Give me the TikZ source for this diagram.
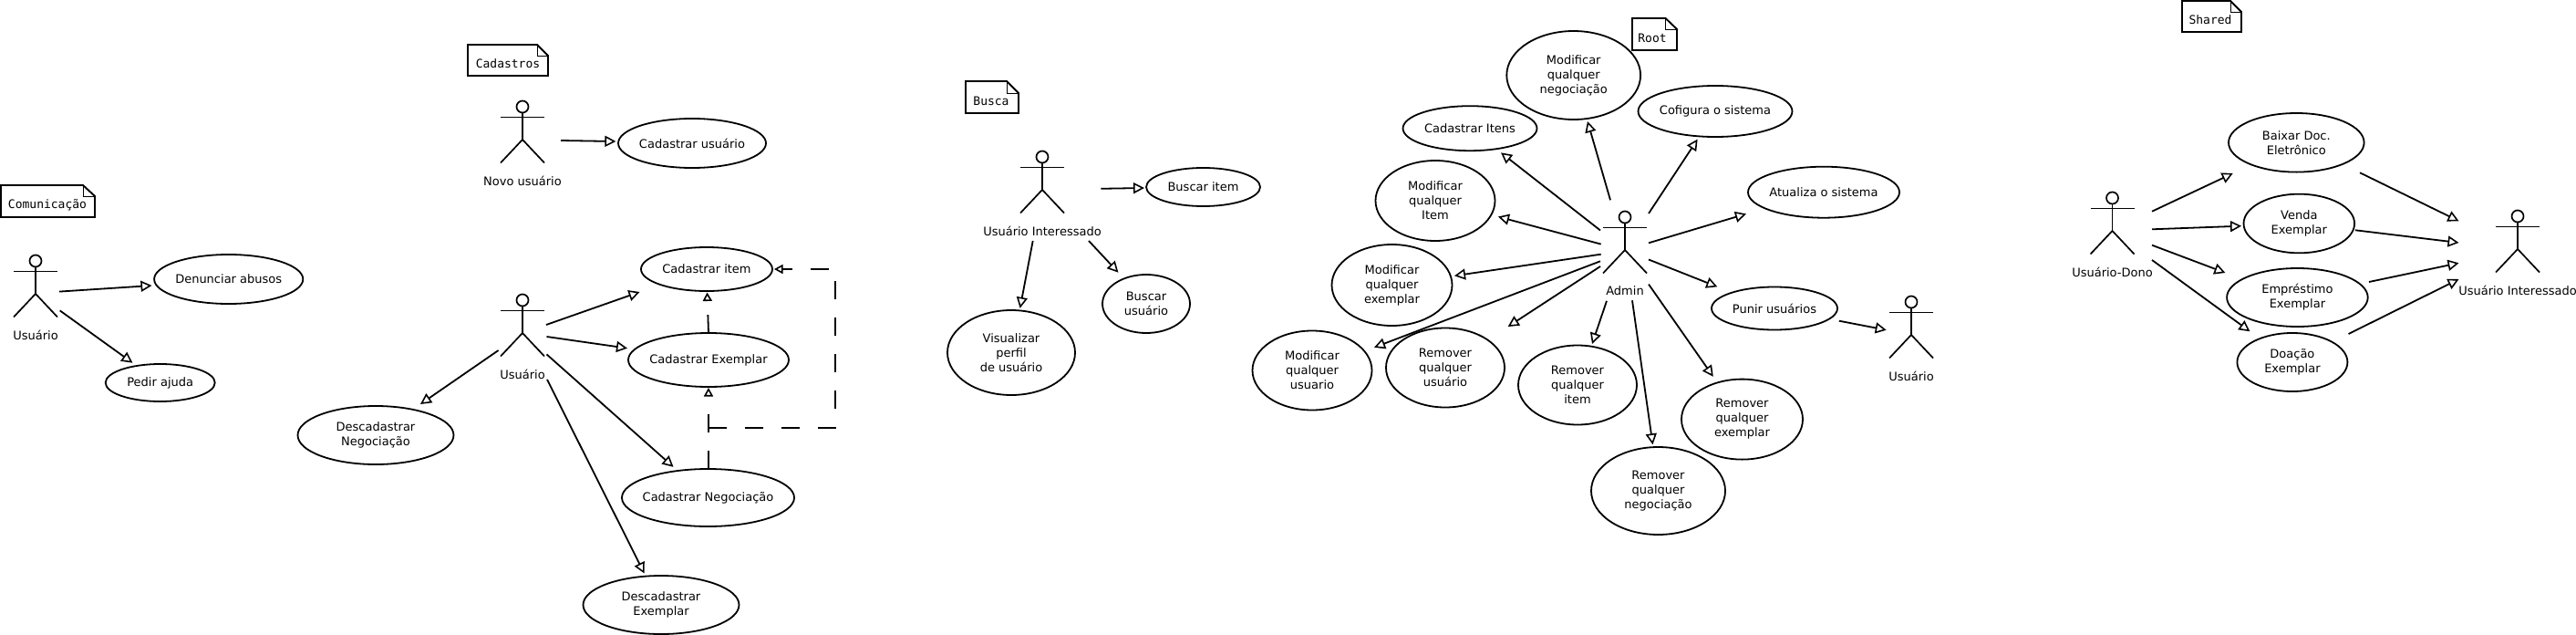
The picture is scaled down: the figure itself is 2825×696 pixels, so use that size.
\documentclass[tikz,border=0pt]{standalone}
\usepackage{fontspec}
\setmainfont{DejaVu Sans}
\setmonofont{DejaVu Sans Mono}
\usetikzlibrary{arrows.meta,calc,shapes.geometric}
\tikzset{
  x=1pt,y=-1pt,
  every node/.style={font=\fontsize{13}{16}\selectfont},
  usecase/.style={draw,ellipse,line width=1.8pt,inner sep=-20pt,outer sep=0pt,align=center},
  gen/.style={line width=1.8pt,-{Triangle[open,length=12pt,width=12pt,line width=1.6pt]}},
  dep/.style={line width=1.8pt,-{Triangle[open,length=9.5pt,width=10pt,line width=1.6pt]},dash pattern=on 20pt off 20pt},
  actorbox/.style={rectangle,inner sep=0pt,minimum width=48pt,minimum height=73pt},
  stick/.style={line width=1.7pt},
  actorlabel/.style={inner sep=0pt},
  notebody/.style={line width=1.9pt,fill=white},
  notefold/.style={line width=0.7pt},
  notetext/.style={inner sep=0pt,font=\ttfamily\fontsize{13}{16}\selectfont}
}
\newcommand\actorfig[4]{% name, x, y(body centre), label
  \node[actorbox] (#1) at (#2,#3) {};
  \draw[stick] ($(#1)+(0,-30)$) ellipse [x radius=6.5pt,y radius=6.5pt];
  \draw[stick] ($(#1)+(-24,-18.5)$) -- ($(#1)+(24,-18.5)$);
  \draw[stick] ($(#1)+(0,-23.5)$) -- ($(#1)+(0,6)$);
  \draw[stick] ($(#1)+(-24,31.5)$) -- ($(#1)+(0,6)$) -- ($(#1)+(24,31.5)$);
  \node[actorlabel] (#1-label) at ($(#1)+(0,51)$) {#4};
}
\newcommand\ucase[5]{% name, (x,y), rx, ry, text
  \node[usecase,minimum width={2*#3},minimum height={2*#4}] (#1) at (#2) {#5};
}
\newcommand\conn[4]{\draw[gen] ($(#1)+(#2)$) -- ($(#3)+(#4)$);}
\newcommand\umlnote[9]{% name, x1,y1,x2,y2, foldx,foldy, (text pos), text
  \draw[notebody] (#2,#3) -- (#6,#3) -- (#4,#7) -- (#4,#5) -- (#2,#5) -- cycle;
  \draw[notefold] (#6,#3) -- (#6,#7) -- (#4,#7);
  \node[notetext] (#1) at (#8) {#9};
}
\begin{document}
\begin{tikzpicture}
\useasboundingbox (0,0) rectangle (2825,696);
% notes
\umlnote{ncom}{1}{203}{104}{238}{91}{215}{52,225}{Comunicação}
\umlnote{ncad}{513}{49}{601}{83}{589}{61}{557,70}{Cadastros}
\umlnote{nbus}{1059}{89}{1117}{124}{1104}{102}{1087,110.5}{Busca}
\umlnote{nroot}{1790}{20}{1839}{55}{1826.5}{32}{1812,42}{Root}
\umlnote{nsha}{2393}{1}{2458}{35}{2446}{13}{2424,22}{Shared}
% actors
\actorfig{u1}{39}{316}{Usuário}
\actorfig{nov}{573}{147}{Novo usuário}
\actorfig{u3}{573}{359}{Usuário}
\actorfig{ub}{1143}{202}{Usuário Interessado}
\actorfig{adm}{1782}{268}{Admin}
\actorfig{ur}{2096}{361}{Usuário}
\actorfig{dono}{2316.5}{247}{Usuário-Dono}
\actorfig{ui}{2761}{267}{Usuário Interessado}
% use cases
\ucase{den}{250.7,306}{81.6}{27}{Denunciar abusos}
\ucase{ped}{175.7,419.5}{60}{20.5}{Pedir ajuda}
\ucase{cus}{759,157}{81}{27}{Cadastrar usuário}
\ucase{cit}{775,295}{72}{24}{Cadastrar item}
\ucase{cex}{777,394.5}{88}{29.5}{Cadastrar Exemplar}
\ucase{cneg}{776.5,545.5}{94.5}{31.5}{Cadastrar Negociação}
\ucase{dneg}{412,477}{85.5}{32}{Descadastrar\\Negociação}
\ucase{dex}{725,663}{85.5}{32}{Descadastrar\\Exemplar}
\ucase{bit}{1319.5,205}{62.5}{21}{Buscar item}
\ucase{bus}{1257,333}{48}{32}{Buscar\\usuário}
\ucase{vis}{1109,386.5}{70}{46.5}{Visualizar\\perfil\\de usuário}
\ucase{mneg}{1725.7,82.5}{73.4}{48.5}{Modificar\\qualquer\\negociação}
\ucase{cof}{1881,122}{84.5}{28}{Cofigura o sistema}
\ucase{cits}{1612,140.7}{73.5}{24.5}{Cadastrar Itens}
\ucase{mit}{1574,220}{65.5}{44}{Modificar\\qualquer\\Item}
\ucase{mex}{1526.5,312.5}{66}{44.5}{Modificar\\qualquer\\exemplar}
\ucase{mus}{1439,406}{65.5}{43.5}{Modificar\\qualquer\\usuario}
\ucase{rus}{1585,403}{65}{43.5}{Remover\\qualquer\\usuário}
\ucase{rit}{1730,422}{65}{43.5}{Remover\\qualquer\\item}
\ucase{rneg}{1818.5,538}{73.5}{48}{Remover\\qualquer\\negociação}
\ucase{rex}{1910.5,459.6}{66.5}{44}{Remover\\qualquer\\exemplar}
\ucase{atu}{2000,210.7}{83}{28}{Atualiza o sistema}
\ucase{pun}{1946,338}{69}{23.5}{Punir usuários}
\ucase{bai}{2518.3,156.3}{74.3}{32.3}{Baixar Doc.\\Eletrônico}
\ucase{ven}{2521.3,245}{60.8}{32.3}{Venda\\Exemplar}
\ucase{emp}{2519.4,326}{77.3}{32}{Empréstimo\\Exemplar}
\ucase{doa}{2513.9,397}{60.5}{32}{Doação\\Exemplar}
% connectors
\conn{u1}{26,3.6}{den}{-84.2,7}
\conn{u1}{26.7,24.4}{ped}{-30.3,-21.8}
\conn{nov}{42,7}{cus}{-83.6,-2}
\conn{u3}{26,-3}{cit}{-73.5,25}
\conn{u3}{26.5,10}{cex}{-89,-12.8}
\conn{u3}{26.5,29.4}{cneg}{-38,-33.7}
\conn{u3}{27,57}{dex}{-18.4,-34.5}
\conn{u3}{-26.4,25}{dneg}{49,-34}
\draw[dep] ($(cex)+(0,-29.5)$) -- ($(cit)+(0.5,25.5)$);
\draw[dep] ($(cneg)+(0.5,-31.5)$) -- ($(cex)+(0,30.5)$);
\draw[dep] ($(cneg)+(0.5,-76.5)$) -- ++(139,0) -- ++(0,-174) -- ($(cit)+(74,0)$);
\conn{ub}{64.3,4.8}{bit}{-64.5,1}
\conn{ub}{51,62}{bus}{-30.6,-34.3}
\conn{ub}{-10.3,62}{vis}{9.6,-48.7}
\conn{adm}{-16,-48.7}{mneg}{15.3,50.5}
\conn{adm}{26,-34}{cof}{-19.4,30.7}
\conn{adm}{-27,-15.5}{cits}{34,26.6}
\conn{adm}{-26.3,-0.4}{mit}{68.9,17.5}
\conn{adm}{-26.3,10.7}{mex}{68.5,-10.2}
\conn{adm}{-27,18.3}{mus}{68,-25.2}
\conn{adm}{-27,24}{rus}{68.7,-45}
\conn{adm}{-20,61.8}{rit}{16,-45}
\conn{adm}{8,61.3}{rneg}{-6,-50.7}
\conn{adm}{26,43.6}{rex}{-31.7,-46.8}
\conn{adm}{26,16.5}{pun}{-62.7,-23.7}
\conn{adm}{26,-1.7}{atu}{-85,23.7}
\conn{pun}{70.8,13.7}{ur}{-27.3,0.7}
\conn{dono}{43.5,-15.3}{bai}{-69.6,33.7}
\conn{dono}{43.5,4.3}{ven}{-63.3,2.7}
\conn{dono}{43.5,21.7}{emp}{-79,-27}
\conn{dono}{43.5,38}{doa}{-46.4,-33.7}
\conn{bai}{69.7,33}{ui}{-64.5,-24.7}
\conn{ven}{61.7,7.3}{ui}{-64.5,-1}
\conn{emp}{78.6,-17}{ui}{-64.5,21.3}
\conn{doa}{61.6,-31}{ui}{-64.5,39}
\end{tikzpicture}
\end{document}
